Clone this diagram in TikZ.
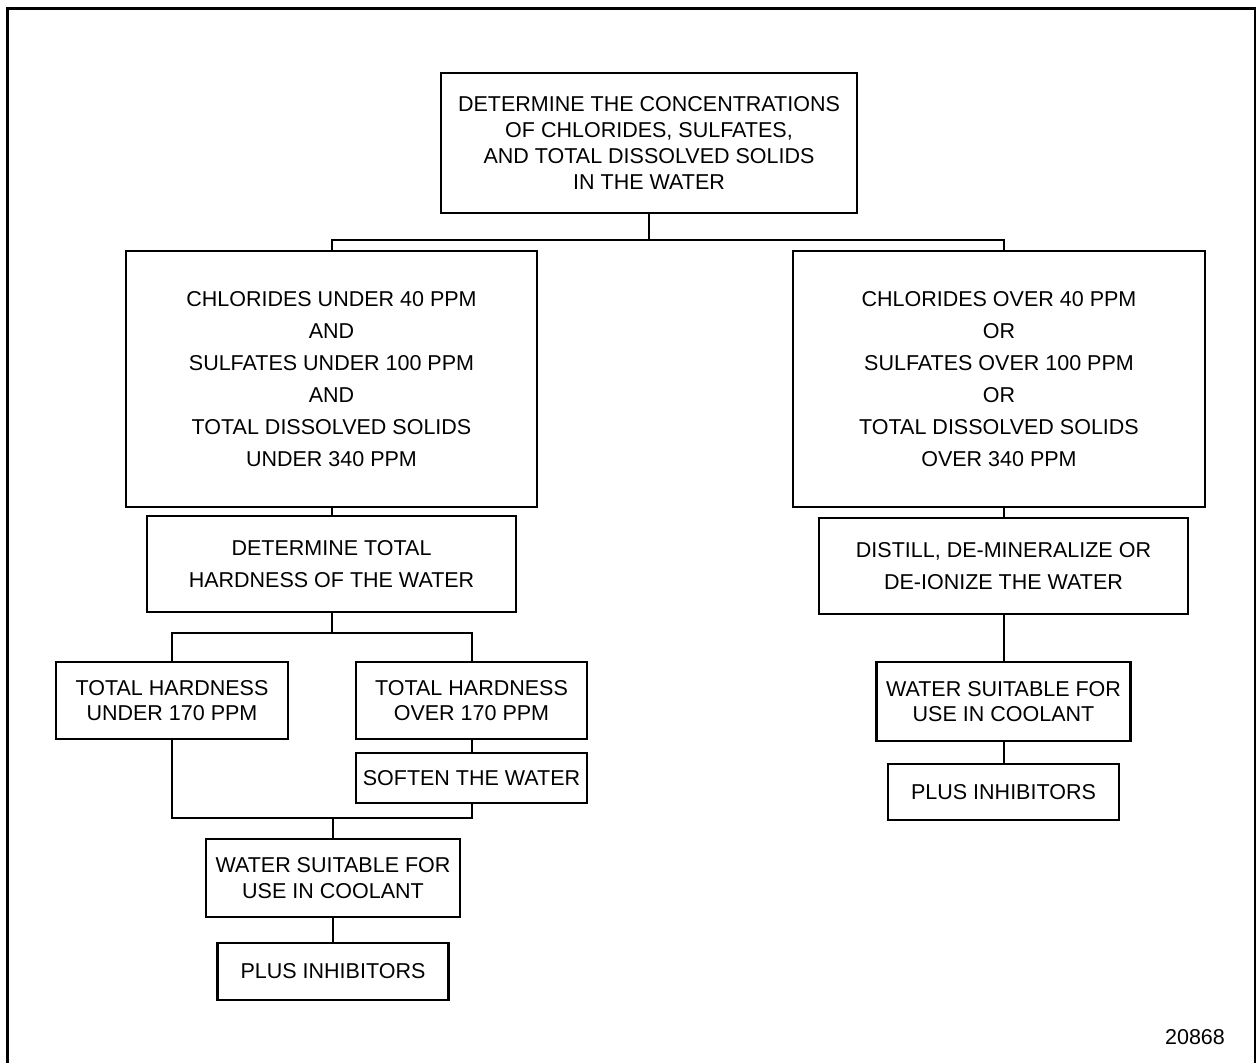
\documentclass[tikz,border=0pt]{standalone}
\usepackage{fontspec}
\setmainfont{Liberation Sans}
\usetikzlibrary{positioning}
\tikzset{
x=1pt, y=-1pt, % one unit per pixel, y runs down
box/.style={draw, line width=2.2pt, align=center, inner sep=0pt,
  font=\fontsize{21.5}{25.7}\selectfont},
wide box/.style={box, font=\fontsize{21.5}{32}\selectfont},
link/.style={line width=2pt},
}
\begin{document}
\begin{tikzpicture}
\useasboundingbox (0,0) rectangle (1256,1063);
% frame
\draw[line width=3pt] (7.5,1063) -- (7.5,8) -- (1256,8);
\draw[line width=1.3pt] (1255,8) -- (1255,1063);

\node[box, minimum width=416, minimum height=140] (top) at (649,143)
  {DETERMINE THE CONCENTRATIONS\\OF CHLORIDES, SULFATES,\\AND TOTAL DISSOLVED SOLIDS\\IN THE WATER};
\node[wide box, minimum width=411, minimum height=256] (leftbig) at (331.5,379)
  {CHLORIDES UNDER 40 PPM\\AND\\SULFATES UNDER 100 PPM\\AND\\TOTAL DISSOLVED SOLIDS\\UNDER 340 PPM};
\node[wide box, minimum width=412, minimum height=256] (rightbig) at (999,379)
  {CHLORIDES OVER 40 PPM\\OR\\SULFATES OVER 100 PPM\\OR\\TOTAL DISSOLVED SOLIDS\\OVER 340 PPM};
\node[wide box, minimum width=369, minimum height=96] (hard) at (331.5,564)
  {DETERMINE TOTAL\\HARDNESS OF THE WATER};
\node[wide box, minimum width=369, minimum height=96] (distill) at (1003.5,566)
  {DISTILL, DE-MINERALIZE OR\\DE-IONIZE THE WATER};
\node[box, minimum width=232, minimum height=77] (under) at (172,700.5)
  {TOTAL HARDNESS\\UNDER 170 PPM};
\node[box, minimum width=231, minimum height=77] (over) at (471.5,700.5)
  {TOTAL HARDNESS\\OVER 170 PPM};
\node[box, minimum width=231, minimum height=50] (soften) at (471.5,778)
  {SOFTEN THE WATER};
\node[box, minimum width=254, minimum height=78] (wsl) at (333,878)
  {WATER SUITABLE FOR\\USE IN COOLANT};
\node[box, minimum width=231, minimum height=57] (pil) at (333,971.5)
  {PLUS INHIBITORS};
\node[box, minimum width=254, minimum height=79] (wsr) at (1003.5,701.5)
  {WATER SUITABLE FOR\\USE IN COOLANT};
\node[box, minimum width=231, minimum height=56] (pir) at (1003.5,792)
  {PLUS INHIBITORS};
\node[font=\fontsize{21.5}{26}\selectfont] (fig) at (1195,1037) {20868};

\coordinate (j1) at (649,240);
\coordinate (j3) at (333,818);
\draw[link] (top.south) -- (j1);
\draw[link] (leftbig.north) |- (j1) -| (rightbig.north -| distill.north);
\draw[link] (leftbig.south) -- (hard.north);
\draw[link] (rightbig.south -| distill.north) -- (distill.north);
\draw[link] (hard.south) -- ++(0,20) coordinate (j2);
\draw[link] (under.north) |- (j2) -| (over.north);
\draw[link] (over.south) -- (soften.north);
\draw[link] (under.south) |- (j3) -| (soften.south);
\draw[link] (j3) -- (wsl.north);
\draw[link] (wsl.south) -- (pil.north);
\draw[link] (distill.south) -- (wsr.north);
\draw[link] (wsr.south) -- (pir.north);
\end{tikzpicture}
\end{document}
